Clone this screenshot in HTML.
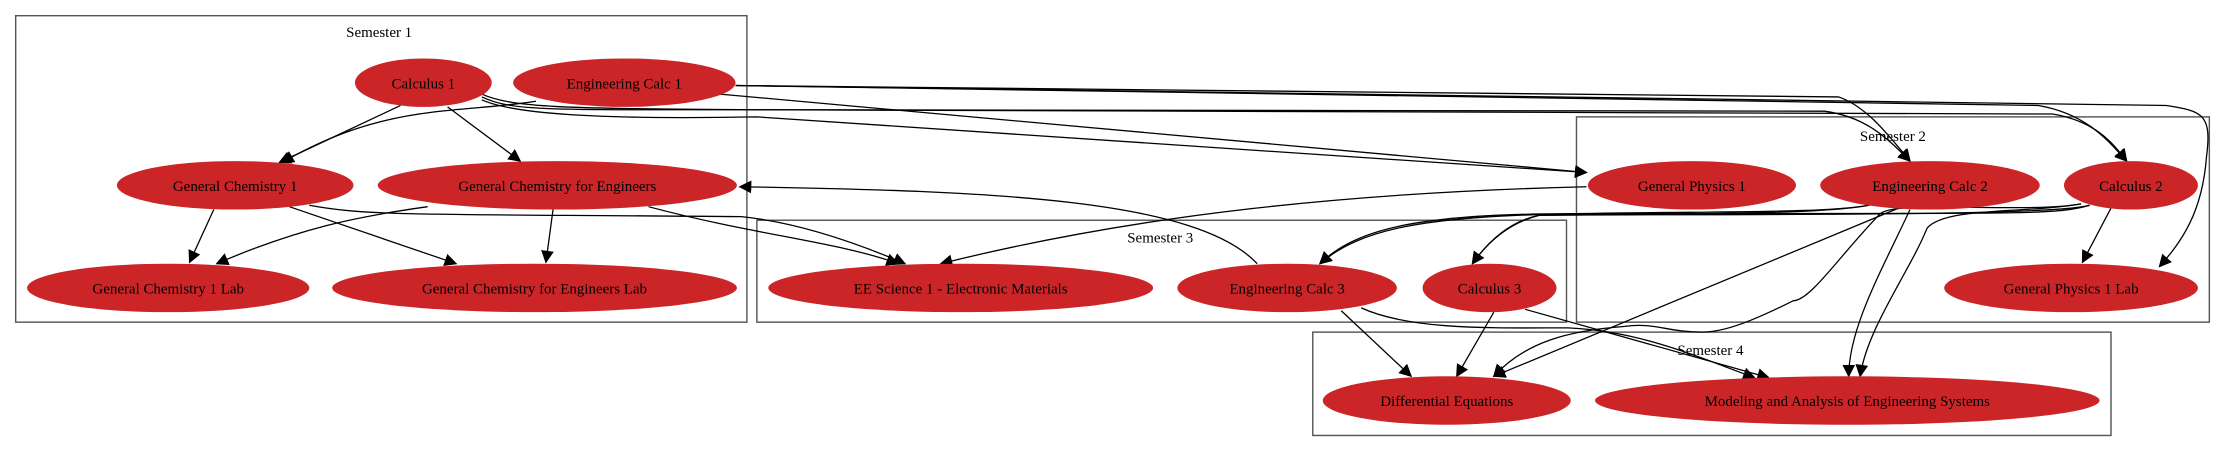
<!DOCTYPE html>
<html><head><meta charset="utf-8"><style>
html,body{margin:0;padding:0;background:#fff;}
svg{display:block;}
text{font-family:"Liberation Serif",serif;font-size:10.5px;text-anchor:middle;fill:#000;}
.c{fill:none;stroke:#555;stroke-width:1;}
.e{fill:none;stroke:#000;stroke-width:0.9;}
.n{fill:#cc2528;}
</style></head><body>
<svg width="2235" height="451" viewBox="0 0 1568 316.4" preserveAspectRatio="none" xmlns="http://www.w3.org/2000/svg">
<defs><marker id="a" viewBox="0 0 10 10" refX="9" refY="5" markerWidth="9" markerHeight="9" markerUnits="userSpaceOnUse" orient="auto"><path d="M0,0 L10,5 L0,10 z" fill="#000"/></marker></defs>
<rect width="1568" height="316.4" fill="#fff"/>
<rect class="c" x="11" y="11" width="513" height="215"/>
<text x="266" y="26">Semester 1</text>
<rect class="c" x="1106" y="82" width="444" height="144"/>
<text x="1328" y="99">Semester 2</text>
<rect class="c" x="531" y="154.5" width="568" height="71.5"/>
<text x="814" y="170">Semester 3</text>
<rect class="c" x="921" y="233" width="560" height="72.5"/>
<text x="1200" y="249">Semester 4</text>
<g class="e" marker-end="url(#a)">
<path d="M281,74 L196,114"/>
<path d="M376,71 C320,80 270,72 198,114"/>
<path d="M314,75 L365,113"/>
<path d="M388,147 L383,184"/>
<path d="M150,147 L133,184"/>
<path d="M300,145 C250,152 210,160 152,185"/>
<path d="M203,145 L320,185"/>
<path d="M217,144 C260,152 300,150 520,152 C560,156 600,170 635,185"/>
<path d="M455,145 C530,165 590,170 630,185"/>
<path d="M882,185 C840,140 700,134 519,131"/>
<path d="M1113,131 C950,135 800,150 660,185"/>
<path d="M338,70 C360,80 420,84 531,82 L1113,121"/>
<path d="M505,66 L1113,121"/>
<path d="M516,60 L1290,68 C1310,75 1325,95 1340,113"/>
<path d="M338,68 C360,78 380,77 531,77 L1280,78 C1310,82 1325,98 1340,113"/>
<path d="M516,60 L1430,74 C1465,80 1480,100 1492,113"/>
<path d="M338,66 C360,76 400,76 531,77 L1440,80 C1470,85 1482,100 1492,113"/>
<path d="M516,60 L1520,74 C1545,78 1552,80 1548,110 C1545,150 1530,170 1515,187"/>
<path d="M1315,143 C1290,150 1200,148 1100,150 C1000,152 955,160 926,185"/>
<path d="M1466,144 C1440,152 1400,149 1100,150 C990,150 950,162 926,185"/>
<path d="M1315,143 C1290,150 1200,150 1080,151 C1060,155 1045,168 1033,185"/>
<path d="M1466,144 C1440,152 1200,150 1080,151 C1060,156 1045,168 1033,185"/>
<path d="M1481,146 L1461,184"/>
<path d="M1332,146 L1048,264"/>
<path d="M1340,147 C1320,190 1297,230 1297,264"/>
<path d="M1460,143 C1420,150 1365,145 1352,160 C1340,190 1310,230 1305,264"/>
<path d="M1460,143 C1420,150 1330,140 1319,150 C1290,180 1270,211 1258,211 C1230,225 1210,233 1194,233 C1170,233 1160,226 1140,229 C1100,232 1070,240 1048,264"/>
<path d="M941,218 L990,264"/>
<path d="M1048,219 L1022,264"/>
<path d="M955,216 C990,232 1050,230 1100,230 C1150,232 1190,250 1231,265"/>
<path d="M1070,217 L1241,265"/>
</g>
<ellipse class="n" cx="297" cy="58" rx="48" ry="17"/><text x="297" y="62">Calculus 1</text>
<ellipse class="n" cx="438" cy="58" rx="78" ry="17"/><text x="438" y="62">Engineering Calc 1</text>
<ellipse class="n" cx="165" cy="130" rx="83" ry="17"/><text x="165" y="134">General Chemistry 1</text>
<ellipse class="n" cx="391" cy="130" rx="126" ry="17"/><text x="391" y="134">General Chemistry for Engineers</text>
<ellipse class="n" cx="118" cy="202" rx="99" ry="17"/><text x="118" y="206">General Chemistry 1 Lab</text>
<ellipse class="n" cx="375" cy="202" rx="142" ry="17"/><text x="375" y="206">General Chemistry for Engineers Lab</text>
<ellipse class="n" cx="1187" cy="130" rx="73" ry="17"/><text x="1187" y="134">General Physics 1</text>
<ellipse class="n" cx="1354" cy="130" rx="77" ry="17"/><text x="1354" y="134">Engineering Calc 2</text>
<ellipse class="n" cx="1495" cy="130" rx="47" ry="17"/><text x="1495" y="134">Calculus 2</text>
<ellipse class="n" cx="1453" cy="202" rx="89" ry="17"/><text x="1453" y="206">General Physics 1 Lab</text>
<ellipse class="n" cx="674" cy="202" rx="135" ry="17"/><text x="674" y="206">EE Science 1 - Electronic Materials</text>
<ellipse class="n" cx="903" cy="202" rx="77" ry="17"/><text x="903" y="206">Engineering Calc 3</text>
<ellipse class="n" cx="1045" cy="202" rx="47" ry="17"/><text x="1045" y="206">Calculus 3</text>
<ellipse class="n" cx="1015" cy="281" rx="87" ry="17"/><text x="1015" y="285">Differential Equations</text>
<ellipse class="n" cx="1296" cy="281" rx="177" ry="17"/><text x="1296" y="285">Modeling and Analysis of Engineering Systems</text>
</svg>
</body></html>
